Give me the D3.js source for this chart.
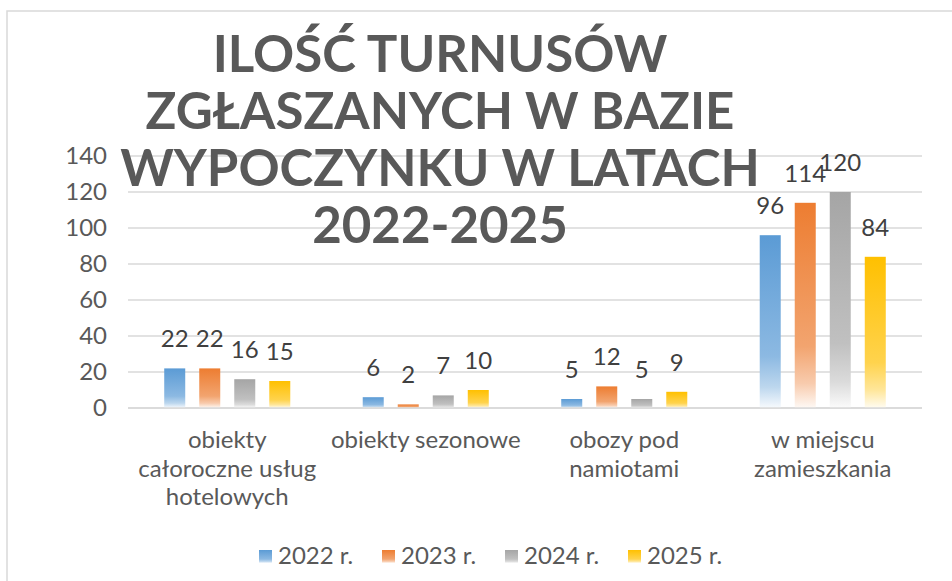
<!DOCTYPE html>
<html>
<head>
<meta charset="utf-8">
<script src="https://cdn.jsdelivr.net/npm/d3@7"></script>
<style>
  body { margin: 0; background: #fff; }
  svg text { font-family: Lato, "Open Sans", sans-serif; }
</style>
</head>
<body>
<svg class="chart" width="952" height="581"></svg>
<script>
var categories = [
    ["obiekty", "całoroczne usług", "hotelowych"],
    ["obiekty sezonowe"],
    ["obozy pod", "namiotami"],
    ["w miejscu", "zamieszkania"]
];
var series = ["2022 r.", "2023 r.", "2024 r.", "2025 r."];
var values2022 = [22, 6, 5, 96];
var values2023 = [22, 2, 12, 114];
var values2024 = [16, 7, 5, 120];
var values2025 = [15, 10, 9, 84];
var yTicks = [0, 20, 40, 60, 80, 100, 120, 140];
var titleLines = ["ILOŚĆ TURNUSÓW", "ZGŁASZANYCH W BAZIE", "WYPOCZYNKU W LATACH", "2022-2025"];
var colors = ["#5B9BD5", "#ED7D31", "#A5A5A5", "#FFC000"];

var allValues = [values2022, values2023, values2024, values2025];

var svg = d3.select(".chart"),
    margin = { top: 156, right: 30, bottom: 173, left: 128 },
    width = +svg.attr("width") - margin.left - margin.right,
    height = +svg.attr("height") - margin.top - margin.bottom;

// chart border (right and bottom edges fall outside the picture)
svg.append("rect")
    .attr("x", 7).attr("y", 11)
    .attr("width", 1000).attr("height", 1000)
    .attr("fill", "#fff")
    .attr("stroke", "#d9d9d9")
    .attr("stroke-width", 1.5);

// gradients for the bars
var defs = svg.append("defs");
colors.forEach(function (c, i) {
    var grad = defs.append("linearGradient")
        .attr("id", "grad" + i)
        .attr("x1", 0).attr("y1", 0).attr("x2", 0).attr("y2", 1);
    grad.append("stop").attr("offset", "0%").attr("stop-color", c);
    grad.append("stop").attr("offset", "70%").attr("stop-color", d3.interpolateRgb(c, "#fff")(0.3));
    grad.append("stop").attr("offset", "88%").attr("stop-color", d3.interpolateRgb(c, "#fff")(0.6));
    grad.append("stop").attr("offset", "100%").attr("stop-color", d3.interpolateRgb(c, "#fff")(0.95));
});

var g = svg.append("g").attr("transform", "translate(" + margin.left + "," + margin.top + ")");

var y = d3.scaleLinear().domain([0, 140]).range([height, 0]);

var x0 = d3.scaleBand()
    .domain(d3.range(categories.length))
    .range([0, width])
    .paddingInner(0.365)
    .paddingOuter(0.1825);

var x1 = d3.scaleBand()
    .domain(d3.range(series.length))
    .range([0, x0.bandwidth()])
    .paddingInner(0.4);

// gridlines
g.append("g")
    .selectAll("line")
    .data(yTicks)
    .enter().append("line")
    .attr("x1", 0).attr("x2", width)
    .attr("y1", function (d) { return y(d); })
    .attr("y2", function (d) { return y(d); })
    .attr("stroke", "#d9d9d9")
    .attr("stroke-width", 1.5);

// y axis labels
var yAxis = d3.axisLeft(y).tickValues(yTicks).tickSize(0).tickPadding(21);
var gy = g.append("g").call(yAxis);
gy.select(".domain").remove();
gy.selectAll("text")
    .attr("fill", "#595959")
    .style("font-size", "24px");

// bars
var groups = g.selectAll(".group")
    .data(categories)
    .enter().append("g")
    .attr("transform", function (d, i) { return "translate(" + x0(i) + ",0)"; });

groups.each(function (cat, ci) {
    var grp = d3.select(this);
    var data = allValues.map(function (vals, si) { return { s: si, v: vals[ci] }; });
    grp.selectAll("rect")
        .data(data)
        .enter().append("rect")
        .attr("x", function (d) { return x1(d.s); })
        .attr("width", x1.bandwidth())
        .attr("y", function (d) { return y(d.v); })
        .attr("height", function (d) { return y(0) - y(d.v); })
        .attr("fill", function (d) { return "url(#grad" + d.s + ")"; });
    grp.selectAll(".label")
        .data(data)
        .enter().append("text")
        .attr("class", "label")
        .attr("x", function (d) { return x1(d.s) + x1.bandwidth() / 2; })
        .attr("y", function (d) { return y(d.v) - 21; })
        .attr("text-anchor", "middle")
        .attr("fill", "#404040")
        .style("font-size", "24px")
        .text(function (d) { return d.v; });
});

// zero line again on top
g.append("line")
    .attr("x1", 0).attr("x2", width)
    .attr("y1", y(0)).attr("y2", y(0))
    .attr("stroke", "#d9d9d9")
    .attr("stroke-width", 1.5);

// category labels
categories.forEach(function (lines, ci) {
    var t = g.append("text")
        .attr("text-anchor", "middle")
        .attr("fill", "#595959")
        .style("font-size", "24px");
    lines.forEach(function (line, li) {
        t.append("tspan")
            .attr("x", x0(ci) + x0.bandwidth() / 2)
            .attr("y", height + 40 + li * 28.5)
            .text(line);
    });
});

// title
var title = svg.append("text")
    .attr("text-anchor", "middle")
    .attr("fill", "#595959")
    .style("font-size", "51px")
    .style("font-weight", "bold");
titleLines.forEach(function (line, i) {
    title.append("tspan")
        .attr("x", 440)
        .attr("y", 72 + i * 57)
        .text(line);
});

// legend
var legend = svg.append("g").attr("transform", "translate(259,550)");
series.forEach(function (s, i) {
    var item = legend.append("g").attr("transform", "translate(" + (i * 123) + ",0)");
    item.append("rect")
        .attr("width", 13).attr("height", 13)
        .attr("fill", "url(#grad" + i + ")");
    item.append("text")
        .attr("x", 19).attr("y", 14)
        .attr("fill", "#595959")
        .style("font-size", "24px")
        .text(s);
});
</script>
</body>
</html>
